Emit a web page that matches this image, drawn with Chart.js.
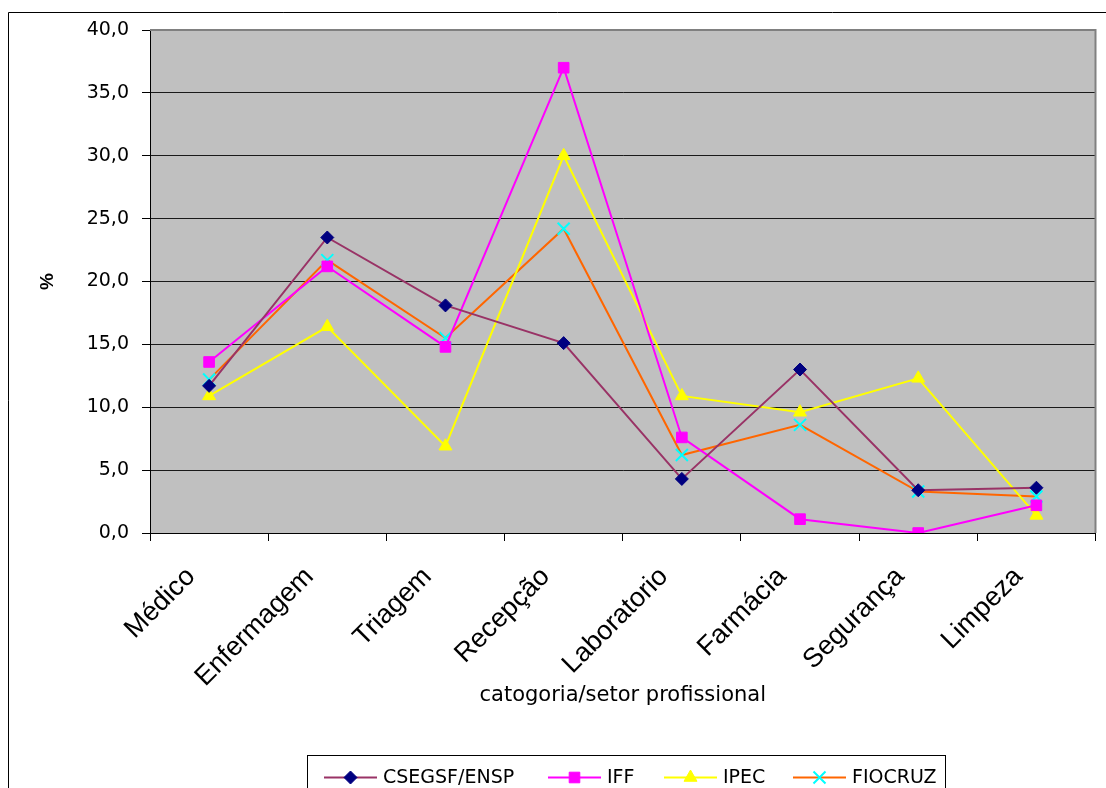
<!DOCTYPE html>
<html>
<head>
<meta charset="utf-8">
<script src="https://cdn.jsdelivr.net/npm/chart.js@4.4.1/dist/chart.umd.min.js"></script>
<style>
  html, body { margin: 0; padding: 0; background: #fff; }
  canvas { display: block; }
</style>
</head>
<body>
<canvas id="chart" width="1106" height="788"></canvas>
<script>
// Categories (professional sector) and percentages per institution
const categories = ['Médico', 'Enfermagem', 'Triagem', 'Recepção', 'Laboratorio', 'Farmácia', 'Segurança', 'Limpeza'];
const csegsfEnsp = [11.7, 23.5, 18.1, 15.1, 4.3, 13.0, 3.4, 3.6];
const iff        = [13.6, 21.2, 14.8, 37.0, 7.6, 1.1, 0.0, 2.2];
const ipec       = [10.9, 16.4, 6.9, 30.0, 10.9, 9.6, 12.3, 1.4];
const fiocruz    = [12.2, 21.7, 15.5, 24.2, 6.2, 8.6, 3.3, 2.9];
const seriesNames = ['CSEGSF/ENSP', 'IFF', 'IPEC', 'FIOCRUZ'];
const yMin = 0, yMax = 40, yStep = 5;
const xAxisTitle = 'catogoria/setor profissional';
const yAxisTitle = '%';

const PLOT_LEFT = 150, PLOT_TOP = 30, PLOT_RIGHT = 1098, PLOT_BOTTOM = 533;
const X_AXIS_HEIGHT = 175;

// Grey plot area, outer frame and right/top plot border
const frameAndBackground = {
  id: 'frameAndBackground',
  beforeDraw(chart) {
    const { ctx, chartArea: a } = chart;
    ctx.save();
    ctx.fillStyle = '#C0C0C0';
    ctx.fillRect(a.left, a.top, a.right - a.left, a.bottom - a.top);
    ctx.strokeStyle = '#000';
    ctx.lineWidth = 1;
    ctx.beginPath();
    ctx.moveTo(8.5, 800);
    ctx.lineTo(8.5, 12.5);
    ctx.lineTo(1110, 12.5);
    ctx.stroke();
    ctx.restore();
  },
  afterDatasetsDraw(chart) {
    const { ctx, chartArea: a } = chart;
    ctx.save();
    ctx.strokeStyle = '#808080';
    ctx.lineWidth = 2;
    ctx.beginPath();
    ctx.moveTo(a.left, a.top);
    ctx.lineTo(a.right, a.top);
    ctx.lineTo(a.right, a.bottom);
    ctx.stroke();
    ctx.restore();
  }
};

// Boxed legend with a line sample and marker for each series
const boxedLegend = {
  id: 'boxedLegend',
  afterDraw(chart) {
    const { ctx } = chart;
    const starts = [324, 548, 664, 793];
    const cy = 777.5;
    ctx.save();
    ctx.strokeStyle = '#000';
    ctx.lineWidth = 1;
    ctx.strokeRect(307.5, 755.5, 638, 60);
    chart.data.datasets.forEach((ds, i) => {
      const x0 = starts[i];
      ctx.strokeStyle = ds.borderColor;
      ctx.lineWidth = 2;
      ctx.beginPath();
      ctx.moveTo(x0, cy);
      ctx.lineTo(x0 + 53, cy);
      ctx.stroke();
      ctx.fillStyle = ds.pointBackgroundColor;
      ctx.strokeStyle = ds.pointBorderColor;
      ctx.lineWidth = ds.pointBorderWidth;
      Chart.helpers.drawPoint(ctx, {
        pointStyle: ds.pointStyle,
        radius: ds.pointRadius,
        rotation: 0,
        borderWidth: ds.pointBorderWidth
      }, x0 + 26.5, cy);
      ctx.fillStyle = '#000';
      ctx.font = '19px "DejaVu Sans"';
      ctx.textBaseline = 'middle';
      ctx.textAlign = 'left';
      ctx.fillText(ds.label, x0 + 59, cy + 1);
    });
    ctx.restore();
  }
};

const lineWidth = 2;
new Chart(document.getElementById('chart'), {
  type: 'line',
  data: {
    labels: categories,
    datasets: [
      {
        label: seriesNames[0], data: csegsfEnsp,
        borderColor: '#993366', borderWidth: lineWidth,
        pointStyle: 'rectRot', pointRadius: 6.5, pointBorderWidth: 1,
        pointBackgroundColor: '#000080', pointBorderColor: '#000080'
      },
      {
        label: seriesNames[1], data: iff,
        borderColor: '#FF00FF', borderWidth: lineWidth,
        pointStyle: 'rect', pointRadius: 7.5, pointBorderWidth: 1,
        pointBackgroundColor: '#FF00FF', pointBorderColor: '#FF00FF'
      },
      {
        label: seriesNames[2], data: ipec,
        borderColor: '#FFFF00', borderWidth: lineWidth,
        pointStyle: 'triangle', pointRadius: 7.5, pointBorderWidth: 1,
        pointBackgroundColor: '#FFFF00', pointBorderColor: '#FFFF00'
      },
      {
        label: seriesNames[3], data: fiocruz,
        borderColor: '#FF6600', borderWidth: lineWidth,
        pointStyle: 'crossRot', pointRadius: 8.5, pointBorderWidth: 2,
        pointBackgroundColor: '#00FFFF', pointBorderColor: '#00FFFF'
      }
    ]
  },
  options: {
    responsive: false,
    animation: false,
    devicePixelRatio: 1,
    layout: {
      padding: { left: 0, top: PLOT_TOP, right: 1106 - PLOT_RIGHT, bottom: 788 - PLOT_BOTTOM - X_AXIS_HEIGHT }
    },
    elements: { line: { tension: 0 } },
    plugins: {
      legend: { display: false },
      tooltip: { enabled: false }
    },
    scales: {
      x: {
        type: 'category',
        offset: true,
        afterFit(scale) { scale.height = X_AXIS_HEIGHT; },
        grid: {
          offset: true,
          drawOnChartArea: false,
          tickLength: 8,
          color: '#000',
          tickColor: '#000'
        },
        border: { color: '#000', width: 1 },
        ticks: {
          minRotation: 45,
          maxRotation: 45,
          autoSkip: false,
          padding: 20,
          labelOffset: -18,
          color: '#000',
          font: { family: '"Liberation Sans"', size: 27 }
        },
        title: {
          display: true,
          text: xAxisTitle,
          color: '#000',
          padding: { top: 0, bottom: 0 },
          font: { family: '"DejaVu Sans"', size: 21 }
        }
      },
      y: {
        min: yMin,
        max: yMax,
        afterFit(scale) { scale.width = PLOT_LEFT; },
        ticks: {
          stepSize: yStep,
          padding: 13,
          color: '#000',
          font: { family: '"DejaVu Sans"', size: 19 },
          callback: (v) => v.toFixed(1).replace('.', ',')
        },
        grid: {
          tickLength: 8,
          lineWidth: 1,
          color: (c) => (c.tick && c.tick.value === yMax ? '#808080' : '#1a1a1a'),
          tickColor: '#000'
        },
        border: { color: '#000', width: 1 },
        title: {
          display: true,
          text: yAxisTitle,
          color: '#000',
          padding: { top: 36, bottom: 0 },
          font: { family: '"Liberation Sans"', size: 19, weight: 'bold' }
        }
      }
    }
  },
  plugins: [frameAndBackground, boxedLegend]
});
</script>
</body>
</html>
